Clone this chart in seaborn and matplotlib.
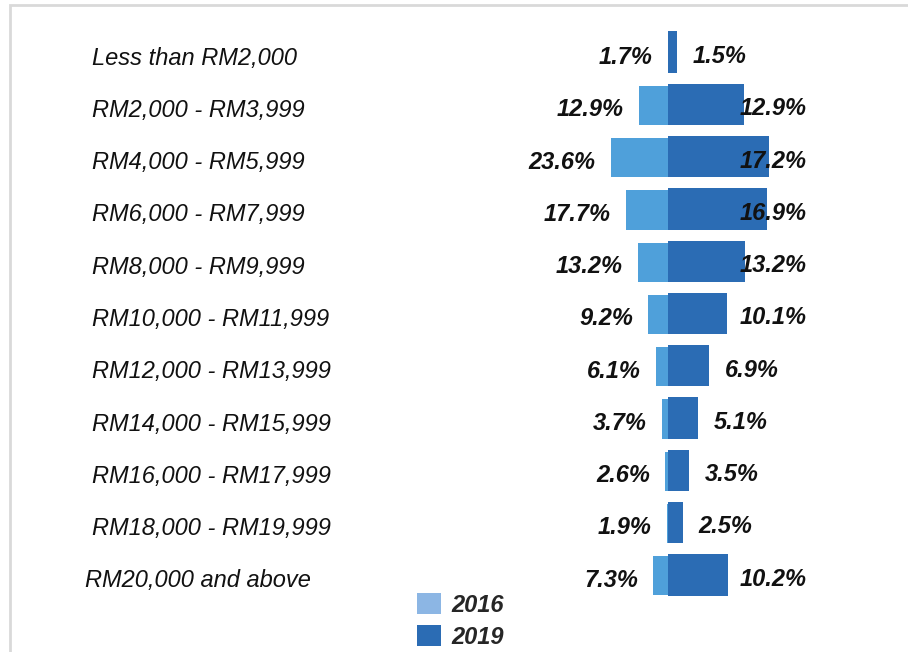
import matplotlib
matplotlib.use("Agg")
import matplotlib.pyplot as plt
from matplotlib.patches import Patch, Rectangle
import seaborn as sns

# --- data ---
brackets = ["Less than RM2,000", "RM2,000 - RM3,999", "RM4,000 - RM5,999",
            "RM6,000 - RM7,999", "RM8,000 - RM9,999", "RM10,000 - RM11,999",
            "RM12,000 - RM13,999", "RM14,000 - RM15,999", "RM16,000 - RM17,999",
            "RM18,000 - RM19,999", "RM20,000 and above"]
share_2016 = [1.7, 12.9, 23.6, 17.7, 13.2, 9.2, 6.1, 3.7, 2.6, 1.9, 7.3]
share_2019 = [1.5, 12.9, 17.2, 16.9, 13.2, 10.1, 6.9, 5.1, 3.5, 2.5, 10.2]
years = ["2016", "2019"]

c16 = "#4fa0da"
c19 = "#2b6cb4"
c16_legend = "#8cb6e4"

sns.set_theme(style="white")
plt.rcParams["font.family"] = ["Liberation Sans", "DejaVu Sans"]

W, H = 908, 652
fig = plt.figure(figsize=(W / 100, H / 100), dpi=100)

# rows sit between y=26px and y=601px from the top
top_px, bot_px = 26, 601
zero16, zero19 = 672, 668
# 2016 panel (drawn first, so the 2019 bars overlap it a little)
axl = fig.add_axes([558 / W, (H - bot_px - 1) / H, (zero16 - 558) / W,
                    (bot_px - top_px) / H])
axr = fig.add_axes([zero19 / W, (H - bot_px) / H, (900 - zero19) / W,
                    (bot_px - top_px) / H])

sns.barplot(x=share_2016, y=brackets, ax=axl, color=c16, width=0.75,
            linewidth=0, saturation=1, orient="h")
sns.barplot(x=share_2019, y=brackets, ax=axr, color=c19, width=0.79,
            linewidth=0, saturation=1, orient="h")

n = len(brackets)
axl.set_xlim((zero16 - 558) / 2.58, 0)
axr.set_xlim(0, (900 - zero19) / 5.87)
for ax in (axl, axr):
    ax.set_ylim(n - 0.5, -0.5)
    ax.axis("off")

lab_kw = dict(fontsize=17, fontweight="bold", fontstyle="italic",
              color="#111111", va="baseline", textcoords="offset points",
              annotation_clip=False)

# value labels
for i, v in enumerate(share_2016):
    axl.annotate(f"{v:.1f}%", (v, i), xytext=(-11, -7.8), ha="right", **lab_kw)
for i, v in enumerate(share_2019):
    axr.annotate(f"{v:.1f}%", (min(v, 9.5), i), xytext=(11.5, -7.8),
                 ha="left", **lab_kw)

# category labels on the left
for i, lab in enumerate(brackets):
    x = 85 if i == n - 1 else 92
    axr.annotate(lab, (x / W, i), xycoords=(fig.transFigure, axr.transData),
                 xytext=(0, -9), textcoords="offset points", ha="left",
                 va="baseline", fontsize=17, fontstyle="italic",
                 color="#111111", annotation_clip=False)

# legend
handles = [Patch(facecolor=c16_legend, edgecolor="none"),
           Patch(facecolor=c19, edgecolor="none")]
leg = fig.legend(handles, years, loc="upper left",
                 bbox_to_anchor=(417 / W, 1 - 593 / H), frameon=False,
                 handlelength=1.0, handleheight=1.0, handletextpad=0.45,
                 labelspacing=0.36, borderpad=0, borderaxespad=0,
                 prop={"size": 17, "weight": "bold", "style": "italic"})

# light grey frame (top and left edges visible)
fig.patches.append(Rectangle((10 / W, -0.2), 1.5, 1.2 - 5 / H,
                             transform=fig.transFigure, fill=False,
                             edgecolor="#d9d9d9", linewidth=2))

fig.savefig("out.png", dpi=100)
